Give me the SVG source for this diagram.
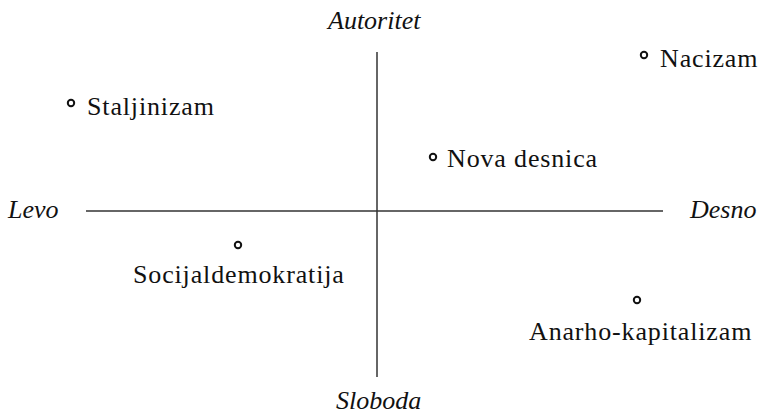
<svg xmlns="http://www.w3.org/2000/svg" width="760" height="415" viewBox="0 0 760 415">
<defs>
<style>
.t{font-family:"Liberation Serif",serif;font-size:26px;fill:#111;letter-spacing:0.85px}
.ax{font-style:italic;letter-spacing:0}
.dot{fill:#fff;stroke:#111;stroke-width:2}
.axis{stroke:#333;stroke-width:1.5}
</style>
</defs>
<rect width="760" height="415" fill="#fff"/>
<g id="connectors">
<line class="axis" x1="377" y1="52" x2="377" y2="377"/>
<line class="axis" x1="86" y1="211" x2="663" y2="211"/>
</g>
<g id="autoritet"><text class="t ax" x="328" y="29">Autoritet</text></g>
<g id="sloboda"><text class="t ax" x="336" y="409">Sloboda</text></g>
<g id="levo"><text class="t ax" x="8" y="218">Levo</text></g>
<g id="desno"><text class="t ax" x="690" y="218">Desno</text></g>
<g id="staljinizam"><circle class="dot" cx="71" cy="103" r="3.2"/><text class="t" x="87" y="115">Staljinizam</text></g>
<g id="nacizam"><circle class="dot" cx="644" cy="55" r="3.2"/><text class="t" x="660" y="67">Nacizam</text></g>
<g id="nova-desnica"><circle class="dot" cx="433" cy="157" r="3.2"/><text class="t" x="447" y="167">Nova desnica</text></g>
<g id="socijaldemokratija"><circle class="dot" cx="238" cy="245" r="3.2"/><text class="t" x="133" y="283">Socijaldemokratija</text></g>
<g id="anarho-kapitalizam"><circle class="dot" cx="637" cy="300" r="3.2"/><text class="t" x="529" y="340">Anarho-kapitalizam</text></g>
</svg>
